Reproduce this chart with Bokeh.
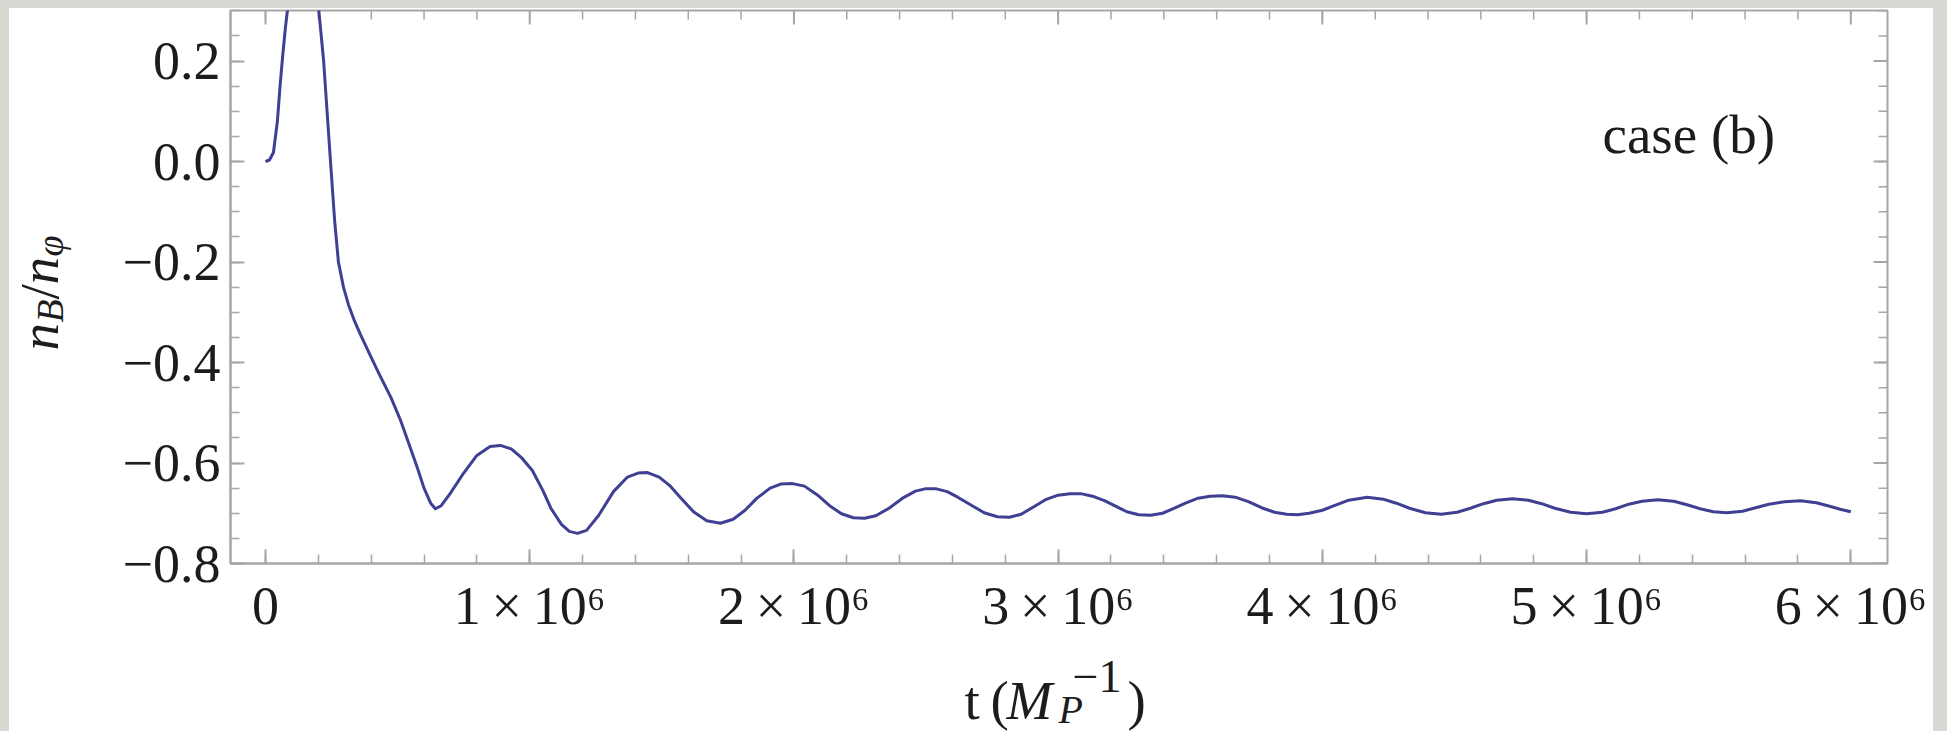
import numpy as np
from bokeh.plotting import figure
from bokeh.layouts import row, column
from bokeh.models import Range1d, FixedTicker, Label
from bokeh.core.properties import value
from bokeh.embed import file_html
from bokeh.resources import INLINE

# Baryon-to-inflaton number ratio n_B/n_phi against time, t in units of 10^6 Mp^-1
t_mega = [
    0.000, 0.015, 0.030, 0.045, 0.055, 0.065, 0.075, 0.085, 0.100, 0.120,
    0.150, 0.180, 0.200, 0.210, 0.220, 0.233, 0.246, 0.262, 0.276, 0.295,
    0.314, 0.335, 0.360, 0.400, 0.435, 0.475, 0.511, 0.545, 0.575, 0.600,
    0.625, 0.643, 0.665, 0.700, 0.750, 0.800, 0.850, 0.889, 0.930, 0.970,
    1.010, 1.050, 1.080, 1.120, 1.150, 1.181, 1.215, 1.260, 1.317, 1.370,
    1.410, 1.446, 1.490, 1.530, 1.571, 1.620, 1.670, 1.722, 1.770, 1.815,
    1.860, 1.910, 1.950, 1.995, 2.040, 2.090, 2.135, 2.180, 2.225, 2.267,
    2.310, 2.360, 2.411, 2.460, 2.500, 2.536, 2.580, 2.620, 2.665, 2.720,
    2.770, 2.816, 2.860, 2.905, 2.952, 3.000, 3.045, 3.085, 3.130, 3.175,
    3.217, 3.260, 3.305, 3.350, 3.395, 3.440, 3.482, 3.530, 3.575, 3.622,
    3.670, 3.720, 3.770, 3.819, 3.865, 3.905, 3.950, 4.000, 4.050, 4.100,
    4.170, 4.230, 4.280, 4.330, 4.390, 4.450, 4.510, 4.560, 4.610, 4.660,
    4.720, 4.780, 4.830, 4.880, 4.940, 5.000, 5.060, 5.110, 5.160, 5.210,
    5.270, 5.330, 5.380, 5.430, 5.480, 5.530, 5.590, 5.640, 5.690, 5.750,
    5.810, 5.870, 5.920, 5.960, 6.000,
]
nB_over_nphi = [
    0.000, 0.003, 0.018, 0.080, 0.150, 0.210, 0.265, 0.310, 0.380, 0.430,
    0.450, 0.400, 0.310, 0.255, 0.200, 0.100, 0.000, -0.120, -0.200, -0.250,
    -0.285, -0.315, -0.345, -0.390, -0.428, -0.470, -0.515, -0.565, -0.610, -0.650,
    -0.680, -0.691, -0.685, -0.660, -0.620, -0.585, -0.567, -0.565, -0.572, -0.590,
    -0.615, -0.655, -0.690, -0.722, -0.736, -0.740, -0.734, -0.705, -0.657, -0.628,
    -0.620, -0.619, -0.628, -0.645, -0.669, -0.697, -0.715, -0.720, -0.712, -0.694,
    -0.670, -0.650, -0.642, -0.641, -0.646, -0.664, -0.685, -0.701, -0.709, -0.710,
    -0.705, -0.690, -0.670, -0.656, -0.651, -0.651, -0.657, -0.668, -0.682, -0.699,
    -0.707, -0.708, -0.702, -0.688, -0.673, -0.664, -0.661, -0.661, -0.666, -0.675,
    -0.686, -0.697, -0.703, -0.704, -0.700, -0.690, -0.680, -0.670, -0.666, -0.665,
    -0.668, -0.677, -0.689, -0.698, -0.702, -0.703, -0.700, -0.694, -0.684, -0.674,
    -0.668, -0.672, -0.680, -0.690, -0.699, -0.702, -0.698, -0.690, -0.681, -0.674,
    -0.671, -0.674, -0.681, -0.690, -0.698, -0.701, -0.698, -0.691, -0.682, -0.676,
    -0.673, -0.676, -0.683, -0.691, -0.697, -0.699, -0.696, -0.689, -0.682, -0.677,
    -0.675, -0.679, -0.686, -0.692, -0.697,
]

x_major_mega = [0, 1, 2, 3, 4, 5, 6]
x_tick_labels = ["0", "1\u2009×\u200910⁶", "2\u2009×\u200910⁶", "3\u2009×\u200910⁶",
                 "4\u2009×\u200910⁶", "5\u2009×\u200910⁶", "6\u2009×\u200910⁶"]
y_major = [-0.8, -0.6, -0.4, -0.2, 0.0, 0.2]
y_tick_labels = ["−0.8", "−0.6", "−0.4", "−0.2", "0.0", "0.2"]

SERIF = "Liberation Serif"
FRAME_COLOR = "#a6a6a6"
TEXT_COLOR = "#1c1c1c"
CURVE_COLOR = "#3f3f93"
PAGE_BG = "#dad8d2"
BASELINE_FIX = 16   # Bokeh's alphabetic anchor sits below the true baseline

# page geometry (pixels): white panel x 9..1933, y 8..731
PANEL_L, PANEL_T, PANEL_R, PANEL_B = 9, 8, 1933, 731
SPLIT_X = 100   # left strip holds the y-axis title
SPLIT_Y = 645   # bottom strip holds the x-axis title
FRAME_L, FRAME_R, FRAME_T, FRAME_B = 230, 1887, 10, 563
X0, X1 = -0.1325e6, 6.139e6
Y0, Y1 = -0.8, 0.3005

# ---------------- main plot ----------------
MW, MH = PANEL_R - SPLIT_X, SPLIT_Y - PANEL_T
p = figure(
    width=MW, height=MH,
    x_range=Range1d(X0, X1), y_range=Range1d(Y0, Y1),
    output_backend="svg", toolbar_location=None,
    min_border_left=FRAME_L - SPLIT_X,
    min_border_right=PANEL_R - FRAME_R,
    min_border_top=FRAME_T - PANEL_T,
    min_border_bottom=SPLIT_Y - FRAME_B,
    background_fill_color="white", border_fill_color="white",
    outline_line_color=FRAME_COLOR, outline_line_width=2,
)
p.grid.visible = False

x_major = [m * 1e6 for m in x_major_mega]
x_minor = [i * 0.2e6 for i in range(0, 31)]
y_minor = [round(-0.8 + 0.05 * i, 2) for i in range(0, 23)]

xaxis = p.xaxis[0]
yaxis = p.yaxis[0]
xaxis.ticker = FixedTicker(ticks=x_major, minor_ticks=x_minor)
yaxis.ticker = FixedTicker(ticks=y_major, minor_ticks=y_minor)
xaxis.major_label_overrides = {float(v): lab for v, lab in zip(x_major, x_tick_labels)}
yaxis.major_label_overrides = {float(v): lab for v, lab in zip(y_major, y_tick_labels)}

for ax in (xaxis, yaxis):
    ax.axis_line_color = FRAME_COLOR
    ax.axis_line_width = 2
    ax.major_tick_in = 14
    ax.major_tick_out = 0
    ax.minor_tick_in = 9
    ax.minor_tick_out = 0
    ax.major_tick_line_color = FRAME_COLOR
    ax.minor_tick_line_color = FRAME_COLOR
    ax.major_tick_line_width = 2
    ax.minor_tick_line_width = 1.5
    ax.major_label_text_font = SERIF
    ax.major_label_text_font_size = "54px"
    ax.major_label_text_color = TEXT_COLOR
xaxis.major_label_standoff = 12
yaxis.major_label_standoff = 10

# mirrored ticks on the top and right edges of the frame
tick_style = dict(line_color=FRAME_COLOR, length_units="screen")
p.ray(x=x_major, y=[Y1] * len(x_major), length=14, angle=-np.pi / 2, line_width=2, **tick_style)
p.ray(x=x_minor, y=[Y1] * len(x_minor), length=9, angle=-np.pi / 2, line_width=1.5, **tick_style)
p.ray(x=[X1] * len(y_major), y=y_major, length=14, angle=np.pi, line_width=2, **tick_style)
p.ray(x=[X1] * len(y_minor), y=y_minor, length=9, angle=np.pi, line_width=1.5, **tick_style)

t = np.array(t_mega) * 1e6
p.line(t, nB_over_nphi, line_color=CURVE_COLOR, line_width=3, line_join="round")

# panel tag inside the frame
p.add_layout(Label(
    x=X0 + (1602 - FRAME_L) / (FRAME_R - FRAME_L) * (X1 - X0),
    y=Y0 + (FRAME_B - (150 - BASELINE_FIX)) / (FRAME_B - FRAME_T) * (Y1 - Y0),
    text="case (b)", text_font=SERIF, text_font_size="55px",
    text_color=TEXT_COLOR, text_align="left", text_baseline="alphabetic",
))


# ---------------- title strips (page-pixel coordinates) ----------------
def strip(left, top, right, bottom, border_l=0, border_r=0):
    # data x runs in page pixels over the frame, data y counts up from the strip bottom
    f = figure(
        width=right - left, height=bottom - top,
        x_range=Range1d(left + border_l, right - border_r), y_range=Range1d(0, bottom - top),
        output_backend="svg", toolbar_location=None,
        x_axis_location=None, y_axis_location=None,
        min_border=0, min_border_left=border_l, min_border_right=border_r,
        min_border_top=0, min_border_bottom=0,
        outline_line_color=None,
        background_fill_color="white", border_fill_color="white",
    )
    f.grid.visible = False
    return f


def put(f, bottom, text, xpage, ypage, size=55, style="normal", angle=0.0):
    f.text(
        x=[xpage], y=[bottom - ypage], text=[text], angle=angle,
        text_font=value(SERIF), text_font_size=value(f"{size}px"),
        text_font_style=style, text_color=TEXT_COLOR,
        text_align="left", text_baseline="alphabetic",
    )


# y-axis title n_B / n_phi, reading bottom to top
ystrip = strip(PANEL_L, PANEL_T, SPLIT_X, PANEL_B)
rot = np.pi / 2
bx = 55 - BASELINE_FIX
put(ystrip, PANEL_B, "n", bx, 350, style="italic", angle=rot)
put(ystrip, PANEL_B, "B", bx + 10, 322, size=38, style="italic", angle=rot)
put(ystrip, PANEL_B, "/", bx, 299, angle=rot)
put(ystrip, PANEL_B, "n", bx, 284, style="italic", angle=rot)
put(ystrip, PANEL_B, "φ", bx + 10, 256, size=38, style="italic", angle=rot)

# x-axis title t (M_P^-1), centred under the frame; same side borders as the main plot
xstrip = strip(SPLIT_X, SPLIT_Y, PANEL_R, PANEL_B,
               border_l=FRAME_L - SPLIT_X, border_r=PANEL_R - FRAME_R)
by = 716 - BASELINE_FIX
put(xstrip, PANEL_B, "t", 964, by)
put(xstrip, PANEL_B, "(", 990, by)
put(xstrip, PANEL_B, "M", 1006, by, style="italic")
put(xstrip, PANEL_B, "P", 1058, by + 9, size=40, style="italic")
put(xstrip, PANEL_B, "−1", 1072, by - 24, size=46)
put(xstrip, PANEL_B, ")", 1127, by)

layout = row(ystrip, column(p, xstrip, spacing=0), spacing=0)

html = file_html(layout, INLINE, title="n_B/n_phi")
html = html.replace(
    "</head>",
    "<style>html{background:#ffffff;margin:0;padding:0;}"
    "body{margin:0 !important;padding:0 !important;background:#ffffff;"
    "border-style:solid;border-color:" + PAGE_BG + ";border-width:8px 14px 0 9px;"
    "box-sizing:border-box;width:1947px;height:731px;overflow:hidden;}</style></head>",
    1,
)
open("out.html", "w").write(html)
